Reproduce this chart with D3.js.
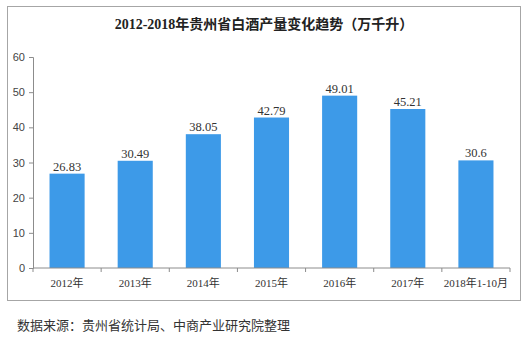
<!DOCTYPE html>
<html><head><meta charset="utf-8">
<script src="https://cdn.jsdelivr.net/npm/d3@7"></script>
<style>body{margin:0;background:#fff;}svg{display:block;}</style>
</head><body>
<script>
const categories = ["2012年","2013年","2014年","2015年","2016年","2017年","2018年1-10月"];
const values = [26.83, 30.49, 38.05, 42.79, 49.01, 45.21, 30.6];
const valueLabels = ["26.83","30.49","38.05","42.79","49.01","45.21","30.6"];
const yTicks = [0,10,20,30,40,50,60];
const title = "2012-2018年贵州省白酒产量变化趋势（万千升）";
const source = "数据来源：贵州省统计局、中商产业研究院整理";

const W = 531, H = 341;
const svg = d3.select("body").append("svg").attr("width", W).attr("height", H);
const serif = "'Liberation Serif','Noto Sans CJK SC',serif";
const cjk = "'Noto Sans CJK SC','Liberation Sans',sans-serif";

svg.append("rect").attr("x",7.5).attr("y",6.5).attr("width",513).attr("height",294)
  .attr("fill","#fff").attr("stroke","#a6a6a6").attr("stroke-width",1);

svg.append("text").attr("x",264).attr("y",29).attr("text-anchor","middle")
  .attr("font-family",serif).attr("font-size",14).attr("font-weight","bold").attr("fill","#222")
  .text(title);

const x = d3.scaleBand().domain(categories).range([33,510]).paddingInner(0.485).paddingOuter(0.2425);
const y = d3.scaleLinear().domain([0,60]).range([268,57]);

const yAxis = svg.append("g").attr("transform","translate(33,0)")
  .call(d3.axisLeft(y).tickValues(yTicks).tickSize(4).tickPadding(4));
yAxis.select(".domain").attr("stroke","#8c8c8c");
yAxis.selectAll(".tick line").attr("stroke","#8c8c8c");
yAxis.selectAll(".tick text").attr("font-family","'Liberation Sans',sans-serif").attr("font-size",11).attr("fill","#444");

svg.selectAll("rect.bar").data(values).join("rect").attr("class","bar")
  .attr("x",(d,i)=>x(categories[i])).attr("width",x.bandwidth())
  .attr("y",d=>y(d)).attr("height",d=>y(0)-y(d)).attr("fill","#3d9ae8");

svg.selectAll("text.lbl").data(values).join("text").attr("class","lbl")
  .attr("x",(d,i)=>x(categories[i])+x.bandwidth()/2).attr("y",d=>y(d)-3)
  .attr("text-anchor","middle").attr("font-family",serif).attr("font-size",12.5).attr("fill","#333")
  .text((d,i)=>valueLabels[i]);

const xs = d3.scaleLinear().domain([0,categories.length]).range([33,510]);
const xAxis = svg.append("g").attr("transform","translate(0,268)");
xAxis.append("line").attr("x1",33).attr("x2",510).attr("stroke","#8c8c8c");
xAxis.selectAll("line.tk").data(d3.range(categories.length+1)).join("line").attr("class","tk")
  .attr("x1",d=>xs(d)).attr("x2",d=>xs(d)).attr("y1",0).attr("y2",4).attr("stroke","#8c8c8c");
xAxis.selectAll("text").data(categories).join("text")
  .attr("x",d=>x(d)+x.bandwidth()/2).attr("y",19).attr("text-anchor","middle")
  .attr("font-family",serif).attr("font-size",11).attr("fill","#333").text(d=>d);

svg.append("text").attr("x",17).attr("y",330).attr("font-family",cjk).attr("font-size",13)
  .attr("fill","#333").text(source);
</script>
</body></html>
